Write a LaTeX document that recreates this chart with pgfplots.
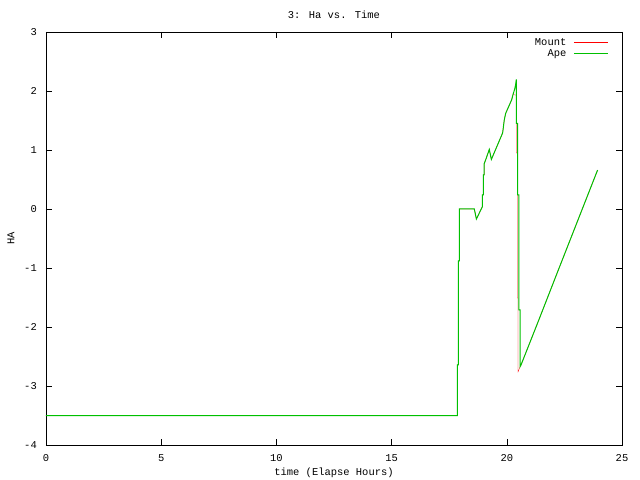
\documentclass[border=0pt]{standalone}
\usepackage{pgfplots}
\pgfplotsset{compat=1.18}
\usepackage{fontspec}
\setmainfont{Liberation Mono}
\definecolor{gpred}{RGB}{255,0,0}
\definecolor{gpgreen}{RGB}{0,192,0}
\begin{document}
\begin{tikzpicture}
\begin{axis}[
  scale only axis,
  width=576bp, height=413bp,
  xmin=0, xmax=25, ymin=-4, ymax=3,
  xtick={0,5,10,15,20,25},
  xticklabels={0,5,10,15,20,25},
  ytick={-4,-3,-2,-1,0,1,2,3},
  yticklabels={-4,-3,-2,-1,0,1,2,3},
  tick align=inside,
  major tick length=6bp,
  tick style={black, line width=0.6pt},
  axis line style={black, line width=0.6pt},
  font=\fontsize{10.5}{12}\selectfont,
  xticklabel style={anchor=center, inner sep=0pt, yshift=-13bp},
  yticklabel style={anchor=east, inner sep=0pt, xshift=-9bp},
  title={3: Ha vs. Time},
  title style={at={(axis description cs:0.5,1)}, anchor=center, inner sep=0pt, yshift=11bp},
  xlabel={time (Elapse Hours)},
  ylabel={HA},
  xlabel style={at={(axis description cs:0.5,0)}, anchor=center, inner sep=0pt, yshift=-28bp},
  ylabel style={at={(axis description cs:0,0.5)}, anchor=center, inner sep=0pt, rotate=0, yshift=35bp},
  legend style={draw=none, fill=none, at={(0.982,0.995)}, anchor=north east,
    font=\fontsize{10.5}{12}\selectfont, row sep=-1bp, legend cell align=right},
  legend plot pos=right,
  legend image code/.code={\path (0bp,0bp); \draw[#1, line width=1.2bp] (5bp,0bp) -- (39bp,0bp);},
]
\addplot[gpred, line width=0.25pt] coordinates {
(0,-3.5) (17.85,-3.5) (17.85,-2.64) (17.90,-2.64) (17.90,-0.88) (17.94,-0.88)
(17.94,0.0) (18.59,0.0) (18.68,-0.17) (18.94,0.04) (18.94,0.24) (18.98,0.24)
(18.98,0.58) (19.02,0.58) (19.02,0.77) (19.08,0.83) (19.24,1.01) (19.33,0.84)
(19.82,1.29) (19.89,1.51) (19.95,1.62) (20.21,1.85) (20.27,1.94)
(20.40,1.93) (20.41,1.93) (20.41,0.95) (20.46,0.95) (20.46,-1.51) (20.49,-1.51)
(20.49,-2.76) (20.55,-2.70) (20.62,-2.64) (21.40,-1.87) (22.24,-1.03) (23.94,0.66)
};
\addlegendentry{Mount}
\addplot[gpgreen, line width=1bp] coordinates {
(0,-3.5) (17.85,-3.5) (17.85,-2.64) (17.90,-2.64) (17.90,-0.88) (17.94,-0.88)
(17.94,0.0) (18.59,0.0) (18.68,-0.17) (18.94,0.04) (18.94,0.24) (18.98,0.24)
(18.98,0.58) (19.02,0.58) (19.02,0.77) (19.08,0.83) (19.24,1.01) (19.33,0.84)
(19.82,1.29) (19.89,1.51) (19.95,1.62) (20.21,1.85) (20.27,1.94) (20.34,2.03)
(20.38,2.10) (20.41,2.19) (20.42,2.19) (20.42,1.45) (20.47,1.45) (20.47,0.24)
(20.52,0.24) (20.52,-1.71) (20.58,-1.71) (20.58,-2.67) (20.62,-2.64)
(21.40,-1.87) (22.24,-1.03) (23.94,0.66)
};
\addlegendentry{Ape}
\end{axis}
\useasboundingbox (current axis.south west) ++(-46bp,-35bp) rectangle ++(640bp,480bp);
\end{tikzpicture}
\end{document}
